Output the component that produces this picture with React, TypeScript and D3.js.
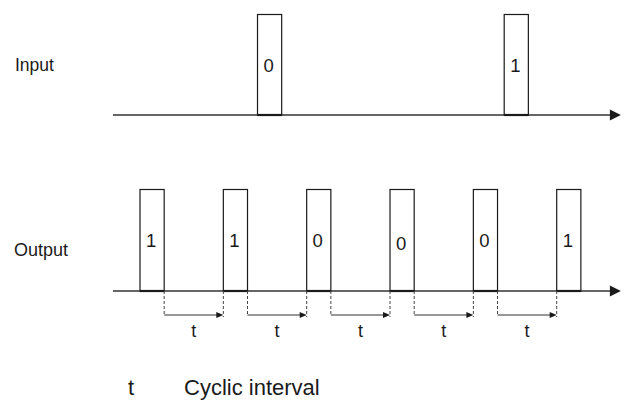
import React from "react";
import * as d3 from "d3";

// Pulse start times (arbitrary time units; one cyclic interval = 100)
const inputTimes = [141, 437];
const inputBits = ["0", "1"];
const outputTimes = [0, 100, 200, 300, 400, 500];
const outputBits = ["1", "1", "0", "0", "0", "1"];
const pulseWidth = 29;
const axisDomain = [-32.5, 577];
const rowLabels = ["Input", "Output"];
const legendSymbol = "t";
const legendText = "Cyclic interval";

const W = 624;
const H = 400;
const FONT = "'Liberation Sans', Arial, Helvetica, sans-serif";
const INK = "#1a1a1a";

export default function App() {
  const x = d3.scaleLinear().domain([0, 500]).range([140, 556.7]);
  const yIn = d3.scaleLinear().domain([0, 1]).range([115, 14.5]);
  const yOut = d3.scaleLinear().domain([0, 1]).range([291, 189.5]);

  const axis = (y: number) => {
    const x0 = x(axisDomain[0]);
    const x1 = x(axisDomain[1]);
    return (
      <g>
        <line x1={x0} x2={x1 - 8} y1={y} y2={y} stroke="#333" strokeWidth={1.5} />
        <path d={`M${x1 - 11},${y - 5.5} L${x1},${y} L${x1 - 11},${y + 5.5} Z`} fill={INK} />
      </g>
    );
  };

  const pulse = (t: number, bit: string, y: d3.ScaleLinear<number, number>, key: string, dy = 0) => {
    const x0 = x(t);
    const x1 = x(t + pulseWidth);
    return (
      <g key={key}>
        <rect x={x0} y={y(1)} width={x1 - x0} height={y(0) - y(1)} fill="white" stroke={INK} strokeWidth={1.2} />
        <line x1={x0} x2={x1} y1={y(0)} y2={y(0)} stroke={INK} strokeWidth={2.2} />
        <text
          x={(x0 + x1) / 2 - 1}
          y={(y(0) + y(1)) / 2 + 7 + dy}
          textAnchor="middle"
          fontFamily={FONT}
          fontSize={18.5}
          fill={INK}
        >
          {bit}
        </text>
      </g>
    );
  };

  const intervals = d3.pairs(outputTimes);
  const arrowY = 315;
  const axisY = yOut(0);

  return (
    <svg width={W} height={H} style={{ position: "absolute", left: 0, top: 0 }} xmlns="http://www.w3.org/2000/svg">
      <rect width={W} height={H} fill="white" />
      <text x={15} y={71} fontFamily={FONT} fontSize={17.5} fill={INK}>{rowLabels[0]}</text>
      <text x={14} y={256} fontFamily={FONT} fontSize={18} fill={INK}>{rowLabels[1]}</text>

      {axis(yIn(0))}
      {inputTimes.map((t, i) => pulse(t, inputBits[i], yIn, "in" + i))}

      {axis(axisY)}
      {outputTimes.map((t, i) => pulse(t, outputBits[i], yOut, "out" + i, i === 3 ? 3 : 0))}

      {intervals.map(([a, b], i) => {
        const xs = x(a + pulseWidth);
        const xe = x(b);
        return (
          <g key={"iv" + i}>
            <line x1={xs} x2={xs} y1={axisY} y2={arrowY + 1} stroke="#444" strokeWidth={1} strokeDasharray="3,2" />
            <line x1={xe} x2={xe} y1={axisY} y2={arrowY + 2} stroke="#444" strokeWidth={1} strokeDasharray="3,2" />
            <line x1={xs} x2={xe - 5} y1={arrowY} y2={arrowY} stroke="#333" strokeWidth={1.1} />
            <path d={`M${xe - 7},${arrowY - 3} L${xe},${arrowY} L${xe - 7},${arrowY + 3} Z`} fill={INK} />
            <text x={(xs + xe) / 2} y={337} textAnchor="middle" fontFamily={FONT} fontSize={18} fill={INK}>
              {legendSymbol}
            </text>
          </g>
        );
      })}

      <text x={128} y={395} fontFamily={FONT} fontSize={22} fill={INK}>{legendSymbol}</text>
      <text x={184} y={395} fontFamily={FONT} fontSize={22} fill={INK}>{legendText}</text>
    </svg>
  );
}
